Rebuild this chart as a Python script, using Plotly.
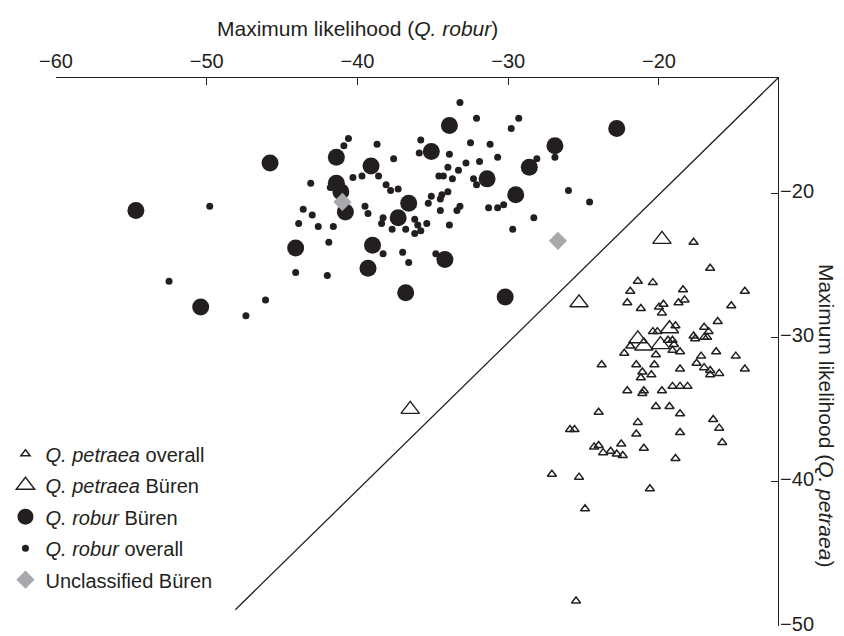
import plotly.graph_objects as go

# ---------------- data ----------------
# Q. robur Büren (large filled circles)
robur_buren_x = [-45.8, -54.7, -44.1, -50.4, -33.9, -35.1, -41.4, -39.1, -31.4, -41.4, -41.1, -40.8,
                 -36.6, -37.3, -39.0, -34.2, -39.3, -36.8, -22.8, -26.9, -28.6, -29.5, -30.2]
robur_buren_y = [-17.9, -21.2, -23.8, -27.9, -15.3, -17.1, -17.5, -18.1, -19.0, -19.3, -19.9, -21.3,
                 -20.7, -21.7, -23.6, -24.6, -25.2, -26.9, -15.5, -16.7, -18.2, -20.1, -27.2]

# Q. robur overall (small filled circles)
robur_all_x = [-49.8, -43.6, -43.9, -44.1, -52.5, -46.1, -47.4,
               -33.2, -32.1, -40.6, -40.9, -38.7, -35.8, -35.9, -32.5, -31.2, -33.9, -37.6, -30.7,
               -32.8, -31.9, -34.0, -33.3, -39.7, -40.3, -38.6, -34.6, -34.3, -33.7, -32.3, -32.1,
               -43.1, -41.8, -38.1, -37.3, -37.8, -34.0, -35.1, -34.4, -34.5, -35.3, -39.5, -39.3,
               -43.0, -33.2, -33.4, -34.5, -31.3, -38.3, -38.4, -37.7, -36.8, -36.2, -36.0, -35.4,
               -35.8, -36.2, -33.9, -42.6, -41.6, -41.9, -38.3, -37.0, -36.6, -34.8, -42.0,
               -29.3, -29.8, -28.1, -26.9, -26.0, -24.6, -30.7, -30.3, -28.3, -29.7]
robur_all_y = [-20.9, -21.1, -22.1, -25.5, -26.1, -27.4, -28.5,
               -13.7, -14.8, -16.2, -16.7, -16.6, -16.3, -17.2, -16.5, -16.6, -17.3, -17.6, -17.5,
               -17.9, -17.8, -18.2, -18.4, -18.8, -18.9, -18.8, -18.8, -18.8, -19.0, -19.0, -19.4,
               -19.3, -19.6, -19.4, -19.7, -19.8, -19.9, -20.2, -20.1, -20.4, -20.7, -20.9, -21.4,
               -21.5, -20.9, -21.2, -21.2, -21.0, -21.7, -22.1, -22.5, -22.5, -21.8, -22.2, -22.1,
               -22.6, -22.8, -22.2, -22.3, -22.3, -23.4, -24.2, -24.1, -24.8, -24.2, -25.7,
               -14.8, -15.5, -17.6, -17.5, -19.8, -20.6, -21.0, -20.8, -21.7, -22.5]

# Q. petraea Büren (large open triangles)
petraea_buren_x = [-19.8, -25.3, -36.5, -19.3, -21.4, -21.0, -19.9]
petraea_buren_y = [-23.2, -27.6, -35.0, -29.4, -30.1, -30.6, -30.5]

# Q. petraea overall (small open triangles)
petraea_all_x = [-17.7, -16.6, -21.4, -20.4, -18.4, -14.3, -21.9, -22.1, -18.7, -18.3, -21.2, -20.0,
                 -19.7, -19.8, -15.2, -16.1, -20.4, -20.1, -18.9, -17.0, -16.7, -17.7, -17.6, -17.0,
                 -16.8, -19.1, -19.0, -19.4, -21.9, -22.3, -20.2, -19.1, -18.6, -17.2, -16.2, -14.9,
                 -23.8, -21.5, -20.3, -17.5, -17.0, -18.6, -16.6, -16.6, -16.0, -14.3, -21.1, -20.5,
                 -21.2, -22.1, -21.1, -21.0, -19.8, -19.1, -18.6, -18.1,
                 -20.2, -19.3, -18.6, -24.0, -16.4, -16.0, -15.8, -21.4, -21.5, -18.6, -25.9, -25.6,
                 -24.3, -24.0, -23.7, -23.2, -22.8, -22.5, -22.4, -21.0, -18.9, -27.1, -25.3, -20.6,
                 -24.9, -25.5]
petraea_all_y = [-23.4, -25.2, -26.1, -26.2, -26.7, -26.8, -26.8, -27.6, -27.6, -27.4, -28.0, -27.9,
                 -27.7, -28.3, -27.8, -28.9, -29.6, -29.6, -29.2, -29.3, -29.6, -29.9, -30.1, -30.0,
                 -30.0, -30.2, -30.5, -30.2, -30.6, -31.1, -31.2, -30.9, -31.0, -31.3, -31.0, -31.3,
                 -31.9, -31.9, -31.9, -31.8, -32.1, -32.2, -32.3, -32.6, -32.5, -32.2, -32.4, -32.6,
                 -32.8, -33.7, -33.9, -33.7, -33.7, -33.4, -33.4, -33.4,
                 -34.8, -34.8, -35.3, -35.2, -35.7, -36.3, -37.3, -35.9, -36.7, -36.6, -36.4, -36.4,
                 -37.6, -37.5, -38.0, -37.9, -38.1, -37.4, -38.2, -37.7, -38.4, -39.5, -39.7, -40.5,
                 -41.9, -48.3]

# Unclassified Büren (grey diamonds)
unclass_x = [-41.0, -26.7]
unclass_y = [-20.6, -23.3]

# Equal-likelihood reference line
diag_x = [-12.1, -48.1]
diag_y = [-12.0, -48.9]

x_ticks = [-60, -50, -40, -30, -20]
y_ticks = [-50, -40, -30, -20]

# ---------------- figure ----------------
INK = "#231f20"
GREY = "#a7a9ac"
FONT = "Liberation Sans, Arial, Helvetica, sans-serif"
FS_TICK = 20
FS_LEG = 20
FS_TITLE = 21

fig = go.Figure()

fig.add_trace(go.Scatter(x=diag_x, y=diag_y, mode="lines",
                         line=dict(color=INK, width=1.3), showlegend=False, hoverinfo="skip"))

fig.add_trace(go.Scatter(x=petraea_all_x, y=petraea_all_y, mode="markers",
                         name="<i>Q. petraea</i> overall", legendgroup="a",
                         marker=dict(symbol="triangle-up-open", size=8, color=INK,
                                     line=dict(width=1.5, color=INK))))
fig.add_trace(go.Scatter(x=petraea_buren_x, y=petraea_buren_y, mode="markers",
                         name="<i>Q. petraea</i> Büren", legendgroup="b",
                         marker=dict(symbol="triangle-up-open", size=16, color=INK,
                                     line=dict(width=1.4, color=INK))))
fig.add_trace(go.Scatter(x=robur_buren_x, y=robur_buren_y, mode="markers",
                         name="<i>Q. robur</i> Büren", legendgroup="c",
                         marker=dict(symbol="circle", size=17, color=INK, line=dict(width=0))))
fig.add_trace(go.Scatter(x=robur_all_x, y=robur_all_y, mode="markers",
                         name="<i>Q. robur</i> overall", legendgroup="d",
                         marker=dict(symbol="circle", size=7, color=INK, line=dict(width=0))))
fig.add_trace(go.Scatter(x=unclass_x, y=unclass_y, mode="markers",
                         name="Unclassified Büren", legendgroup="e",
                         marker=dict(symbol="diamond", size=14, color=GREY, line=dict(width=0))))

axis_common = dict(showgrid=False, zeroline=False, showline=True, linecolor=INK, linewidth=1.2,
                   ticks="inside", ticklen=7, tickwidth=1.1, tickcolor=INK,
                   ticklabeloverflow="allow",
                   tickfont=dict(family=FONT, size=FS_TICK, color=INK))

fig.update_layout(
    width=844, height=636,
    margin=dict(l=48, r=74, t=70, b=18, autoexpand=False),
    paper_bgcolor="white", plot_bgcolor="white",
    font=dict(family=FONT, size=FS_TICK, color=INK),
    xaxis=dict(side="top", range=[-60, -12.1], tickvals=x_ticks, ticklabelstandoff=1,
               **axis_common),
    yaxis=dict(side="right", range=[-50.03, -12], tickvals=y_ticks, ticklabelstandoff=-3,
               ticklabelshift=-2, **axis_common),
    legend=dict(x=-0.070, y=0.35, xanchor="left", yanchor="top",
                bgcolor="rgba(0,0,0,0)", tracegroupgap=2.5,
                font=dict(family=FONT, size=FS_LEG, color=INK)),
    annotations=[
        dict(text="Maximum likelihood (<i>Q. robur</i>)", xref="paper", yref="paper",
             x=0.417, y=1.09, showarrow=False, xanchor="center", yanchor="middle",
             font=dict(family=FONT, size=FS_TITLE, color=INK)),
        dict(text="Maximum likelihood (<i>Q. petraea</i>)", xref="paper", yref="paper",
             x=1.068, y=0.385, showarrow=False, xanchor="center", yanchor="middle",
             textangle=90, font=dict(family=FONT, size=FS_TITLE, color=INK)),
    ],
)

fig.write_html("out.html")
